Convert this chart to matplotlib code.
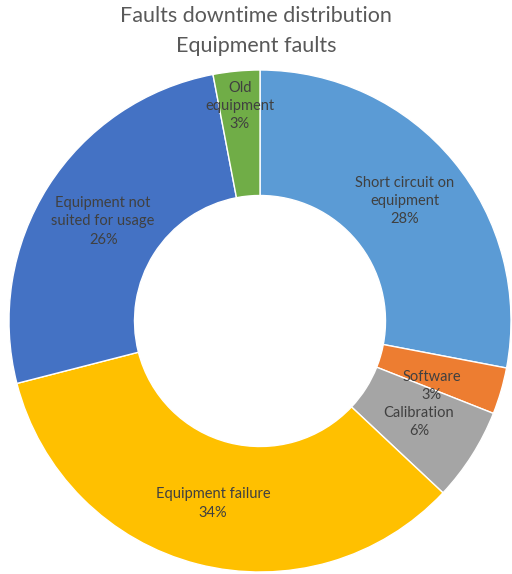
import matplotlib.pyplot as plt
import numpy as np

labels = ['Short circuit on\nequipment', 'Software', 'Calibration',
          'Equipment failure', 'Equipment not\nsuited for usage', 'Old\nequipment']
values = [28, 3, 6, 34, 26, 3]
colors = ['#5B9BD5', '#ED7D31', '#A5A5A5', '#FFC000', '#4472C4', '#70AD47']
label_r = [0.75, 0.73, 0.75, 0.75, 0.74, 0.86]
# small angular nudges (degrees) where Excel shifted the label
label_shift = [0, -4.5, 0, 0, 0, 0]

plt.rcParams['font.family'] = ['Lato', 'DejaVu Sans']

fig = plt.figure(figsize=(5.12, 5.74), dpi=100)
ax = fig.add_axes([9 / 512, 2 / 574, 502 / 512, 502 / 574])

wedges, _ = ax.pie(values, colors=colors, startangle=90, counterclock=False,
                   radius=1.0, wedgeprops=dict(width=0.5, edgecolor='white', linewidth=1))

total = sum(values)
start = 90.0
for lab, v, r, sh in zip(labels, values, label_r, label_shift):
    mid = np.deg2rad(start - 360.0 * v / total / 2 + sh)
    start -= 360.0 * v / total
    ax.text(r * np.cos(mid), r * np.sin(mid), f'{lab}\n{v}%', ha='center', va='center',
            fontsize=10.5, color='#404040', linespacing=1.4)

ax.set_xlim(-1, 1)
ax.set_ylim(-1, 1)
ax.set_aspect('equal')
ax.axis('off')

fig.text(0.5, 1 - 16 / 574, 'Faults downtime distribution', ha='center', va='center',
         fontsize=15.5, color='#595959')
fig.text(0.5, 1 - 46 / 574, 'Equipment faults', ha='center', va='center',
         fontsize=15.5, color='#595959')

fig.savefig('out.png', dpi=100, facecolor='white')
